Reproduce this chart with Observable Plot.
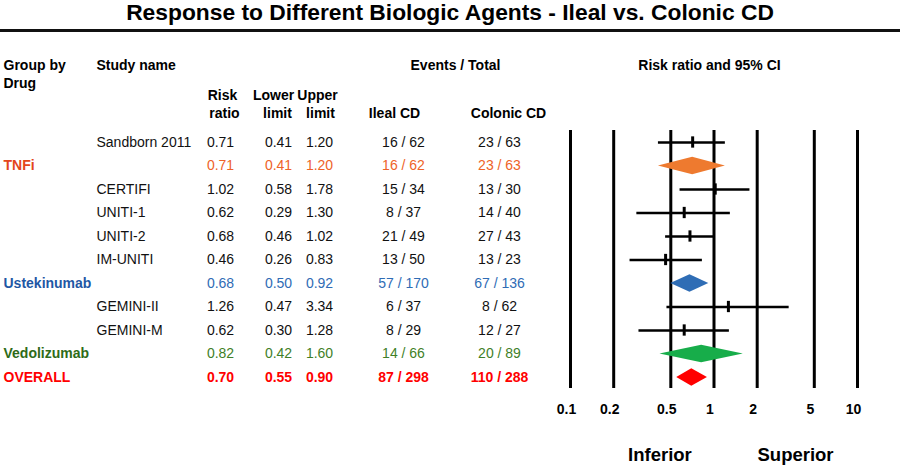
<!DOCTYPE html>
<html><head><meta charset="utf-8">
<script src="https://cdn.jsdelivr.net/npm/d3@7"></script>
<script src="https://cdn.jsdelivr.net/npm/@observablehq/plot@0.6"></script>
<style>
body{margin:0;background:#fff;}
#wrap{position:relative;width:900px;height:469px;overflow:hidden;font-family:"Liberation Sans",Arial,sans-serif;}
#title{position:absolute;left:0;top:1px;width:900px;text-align:center;font-weight:bold;font-size:22.8px;line-height:22px;color:#000;z-index:2;}
#rule{position:absolute;left:0;top:29px;width:900px;height:3px;background:#111;}
#left{position:absolute;left:0;top:0;}
#right{position:absolute;left:550px;top:0;}
</style></head><body>
<div id="wrap"><div id="title">Response to Different Biologic Agents - Ileal vs. Colonic CD</div><div id="rule"></div><div id="left"></div><div id="right"></div></div>
<script>
// ---------- data ----------
const groups = ["", "TNFi", "", "", "", "", "Ustekinumab", "", "", "Vedolizumab", "OVERALL"];
const studies = ["Sandborn 2011", "", "CERTIFI", "UNITI-1", "UNITI-2", "IM-UNITI", "", "GEMINI-II", "GEMINI-M", "", ""];
const rowType = ["study", "TNFi", "study", "study", "study", "study", "Ustekinumab", "study", "study", "Vedolizumab", "OVERALL"];
const riskRatio = [0.71, 0.71, 1.02, 0.62, 0.68, 0.46, 0.68, 1.26, 0.62, 0.82, 0.70];
const lowerLimit = [0.41, 0.41, 0.58, 0.29, 0.46, 0.26, 0.50, 0.47, 0.30, 0.42, 0.55];
const upperLimit = [1.20, 1.20, 1.78, 1.30, 1.02, 0.83, 0.92, 3.34, 1.28, 1.60, 0.90];
const ilealCD = ["16 / 62", "16 / 62", "15 / 34", "8 / 37", "21 / 49", "13 / 50", "57 / 170", "6 / 37", "8 / 29", "14 / 66", "87 / 298"];
const colonicCD = ["23 / 63", "23 / 63", "13 / 30", "14 / 40", "27 / 43", "13 / 23", "67 / 136", "8 / 62", "12 / 27", "20 / 89", "110 / 288"];
const axisTicks = [0.1, 0.2, 0.5, 1, 2, 5, 10];
const axisTickLabels = ["0.1", "0.2", "0.5", "1", "2", "5", "10"];
const headerLabels = ["Group by", "Drug", "Study name", "Risk", "ratio", "Lower", "limit", "Upper", "limit", "Events / Total", "Ileal CD", "Colonic CD", "Risk ratio and 95% CI"];
const directionLabels = ["Inferior", "Superior"];

// ---------- styles / layout ----------
const nameColor = {study: "#111", TNFi: "#E3461B", Ustekinumab: "#1F57A4", Vedolizumab: "#2E6B17", OVERALL: "#FF0000"};
const valueColor = {study: "#111", TNFi: "#EE6328", Ustekinumab: "#2F6CB5", Vedolizumab: "#3F7F28", OVERALL: "#FF0000"};
const diamondColor = {TNFi: "#EE7A2F", Ustekinumab: "#2F6DB5", Vedolizumab: "#17AD4A", OVERALL: "#FF0000"};
const W = 900, H = 469, firstRowPx = 142, rowStep = 23.5;
const yDomain = [-firstRowPx / rowStep, (H - firstRowPx) / rowStep];
const font = "Liberation Sans, Arial, sans-serif";
// header layout: [x(px), y(row units), anchor]
const headerLayout = [
  [3, -3.28, "start"], [3, -2.51, "start"], [96, -3.28, "start"],
  [222, -2.0, "middle"], [224, -1.23, "middle"],
  [273, -2.0, "middle"], [277, -1.23, "middle"],
  [317, -2.0, "middle"], [320, -1.23, "middle"],
  [455, -3.28, "middle"], [394, -1.23, "middle"], [508, -1.23, "middle"],
  [709, -3.28, "middle"]
];
const col = {group: 3, study: 96, rr: 220, lower: 278, upper: 319, ileal: 403, colonic: 499};

const rows = d3.range(riskRatio.length);
const studyRows = rows.filter(i => rowType[i] === "study");
const summaryRows = rows.filter(i => rowType[i] !== "study");
const headers = headerLabels.map((t, k) => ({t, x: headerLayout[k][0], y: headerLayout[k][1], a: headerLayout[k][2]}));

const valueCols = [
  ["rr", i => riskRatio[i].toFixed(2)],
  ["lower", i => lowerLimit[i].toFixed(2)],
  ["upper", i => upperLimit[i].toFixed(2)],
  ["ileal", i => ilealCD[i]],
  ["colonic", i => colonicCD[i]]
];
const valueMarks = (subset, weight) => valueCols.map(([k, f]) =>
  Plot.text(subset, {x: () => col[k], y: i => i, text: f, fill: i => valueColor[rowType[i]],
    textAnchor: "middle", fontSize: 14, fontWeight: weight}));

const left = Plot.plot({
  width: W, height: H, margin: 0,
  style: {fontFamily: font, background: "transparent"},
  x: {type: "linear", domain: [0, W], range: [0, W], axis: null},
  y: {type: "linear", domain: yDomain, range: [0, H], axis: null},
  color: {type: "identity"},
  marks: [
    Plot.text(headers.filter(d => d.a === "start"), {x: "x", y: "y", text: "t", textAnchor: "start", fontWeight: "bold", fontSize: 14, fill: "#000"}),
    Plot.text(headers.filter(d => d.a === "middle"), {x: "x", y: "y", text: "t", textAnchor: "middle", fontWeight: "bold", fontSize: 14, fill: "#000"}),
    Plot.text(summaryRows, {x: () => col.group, y: i => i, text: i => groups[i], fill: i => nameColor[rowType[i]], textAnchor: "start", fontWeight: "bold", fontSize: 14}),
    Plot.text(studyRows, {x: () => col.study, y: i => i, text: i => studies[i], fill: "#111", textAnchor: "start", fontSize: 14}),
    ...valueMarks(rows.filter(i => rowType[i] !== "OVERALL"), "normal"),
    ...valueMarks(rows.filter(i => rowType[i] === "OVERALL"), "bold")
  ]
});
document.getElementById("left").appendChild(left);

// ---------- forest plot ----------
const diamondHalf = 0.37;
const diamonds = summaryRows.flatMap(i => [
  {x: lowerLimit[i], y1: i, y2: i, g: rowType[i]},
  {x: riskRatio[i], y1: i - diamondHalf, y2: i + diamondHalf, g: rowType[i]},
  {x: upperLimit[i], y1: i, y2: i, g: rowType[i]}
]);
const tickRowY = 11.38, gridTop = -0.51, gridBottom = 10.47, dirRowY = 13.3;

const right = Plot.plot({
  width: 350, height: H, marginLeft: 20, marginRight: 43, marginTop: 0, marginBottom: 0,
  style: {fontFamily: font, background: "transparent"},
  x: {type: "log", domain: [0.1, 10], axis: null},
  y: {type: "linear", domain: yDomain, range: [0, H], axis: null},
  color: {type: "identity"},
  marks: [
    Plot.ruleX(axisTicks, {x: d => d, y1: gridTop, y2: gridBottom, stroke: "#000", strokeWidth: 3}),
    Plot.ruleY(studyRows, {x1: i => lowerLimit[i], x2: i => upperLimit[i], y: i => i, stroke: "#000", strokeWidth: 2.6}),
    Plot.ruleX(studyRows, {x: i => riskRatio[i], y1: i => i - 0.24, y2: i => i + 0.24, stroke: "#000", strokeWidth: 3}),
    Plot.areaY(diamonds, {x: "x", y1: "y1", y2: "y2", z: "g", fill: d => diamondColor[d.g], curve: "linear"}),
    Plot.text(axisTicks, {x: d => d, y: () => tickRowY, text: (d, k) => axisTickLabels[k], dx: -4, fontWeight: "bold", fontSize: 14, fill: "#000"}),
    Plot.text(directionLabels, {x: (d, k) => [0.42, 3.7][k], y: () => dirRowY, text: d => d, fontWeight: "bold", fontSize: 18.5, fill: "#000"})
  ]
});
document.getElementById("right").appendChild(right);
</script>
</body></html>
